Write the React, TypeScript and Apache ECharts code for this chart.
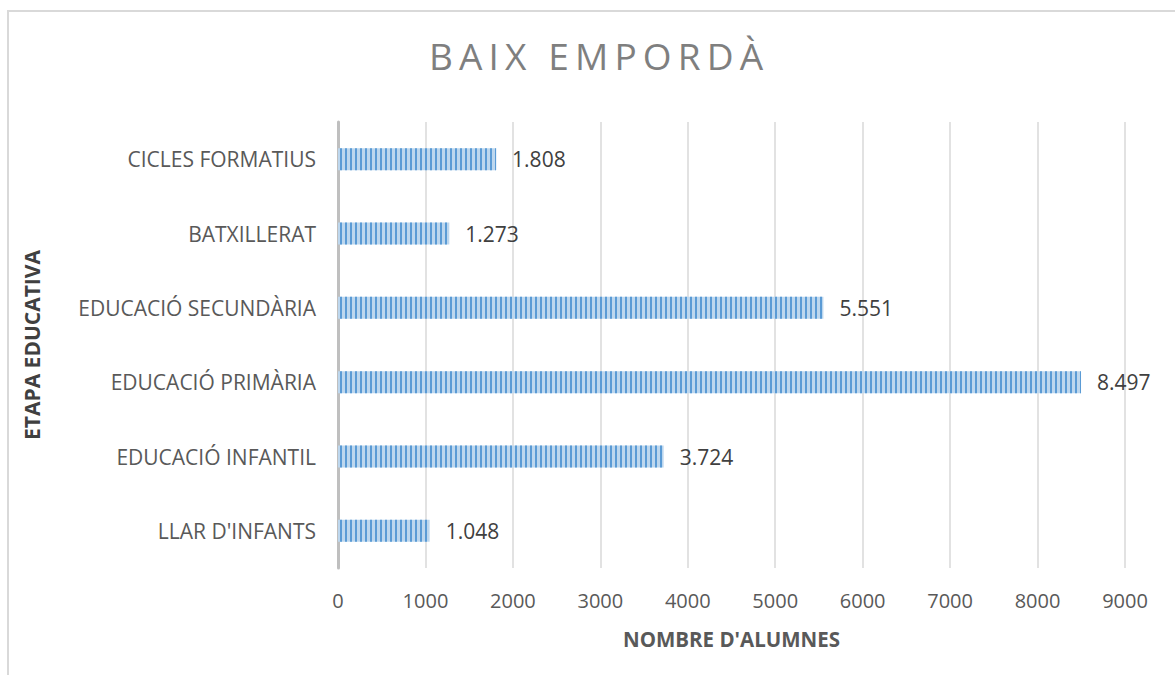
import React, { useEffect, useRef } from "react";
import * as echarts from "echarts";

const categories = [
  "LLAR D'INFANTS",
  "EDUCACIÓ INFANTIL",
  "EDUCACIÓ PRIMÀRIA",
  "EDUCACIÓ SECUNDÀRIA",
  "BATXILLERAT",
  "CICLES FORMATIUS",
];
const values = [1048, 3724, 8497, 5551, 1273, 1808];
const xTicks = { min: 0, max: 9000, interval: 1000 };

const fmt = (v: number) => String(v).replace(/\B(?=(\d{3})+(?!\d))/g, ".");
const spaced = (s: string) => s.split("").join("\u2009");

export default function App() {
  const ref = useRef<HTMLDivElement>(null);
  useEffect(() => {
    const chart = echarts.init(ref.current!, undefined, { renderer: "svg" });
    chart.setOption({
      animation: false,
      backgroundColor: "#ffffff",
      title: {
        text: spaced("BAIX EMPORDÀ"),
        left: 591,
        textAlign: "center",
        top: 32,
        textStyle: {
          fontFamily: "Open Sans",
          fontSize: 37,
          fontWeight: 400,
          color: "#7f7f7f",
        },
      },
      graphic: [
        {
          type: "polyline",
          shape: { points: [[8, 675], [8, 11], [1175, 11]] },
          style: { stroke: "#d9d9d9", lineWidth: 2, fill: "none" },
          silent: true,
        },
      ],
      grid: { left: 338, right: 50, top: 122, bottom: 107, containLabel: false },
      xAxis: {
        type: "value",
        min: xTicks.min,
        max: xTicks.max,
        interval: xTicks.interval,
        axisLine: { show: false },
        axisTick: { show: false },
        splitLine: { lineStyle: { color: "#d9d9d9", width: 1.5 } },
        axisLabel: {
          color: "#595959",
          fontSize: 20,
          fontFamily: "Open Sans",
          margin: 22,
          formatter: (v: number) => String(v),
        },
        name: "NOMBRE D'ALUMNES",
        nameLocation: "middle",
        nameGap: 60,
        nameTextStyle: {
          color: "#595959",
          fontSize: 20.5,
          fontWeight: "bold",
          fontFamily: "Open Sans",
        },
      },
      yAxis: {
        type: "category",
        data: categories,
        axisLine: { show: true, lineStyle: { color: "#bfbfbf", width: 3 } },
        axisTick: { show: false },
        axisLabel: {
          color: "#595959",
          fontSize: 21,
          fontFamily: "Open Sans",
          margin: 22,
        },
        name: "ETAPA EDUCATIVA",
        nameLocation: "middle",
        nameGap: 296,
        nameRotate: 90,
        nameTextStyle: {
          color: "#404040",
          fontSize: 21,
          fontWeight: "bold",
          fontFamily: "Open Sans",
        },
      },
      series: [
        {
          type: "bar",
          data: values,
          barWidth: 22,
          itemStyle: {
            color: "#bdd7ee",
            decal: {
              symbol: "rect",
              symbolSize: 1,
              color: "#5b9bd5",
              dashArrayX: [2, 3],
              dashArrayY: [4, 0],
              rotation: 0,
            },
          },
          label: {
            show: true,
            position: "right",
            distance: 16,
            color: "#404040",
            fontSize: 21,
            fontFamily: "Open Sans",
            formatter: (p: any) => fmt(p.value),
          },
        },
      ],
    });
    return () => chart.dispose();
  }, []);
  return (
    <div
      ref={ref}
      style={{ position: "fixed", left: 0, top: 0, width: 1175, height: 675 }}
    />
  );
}
